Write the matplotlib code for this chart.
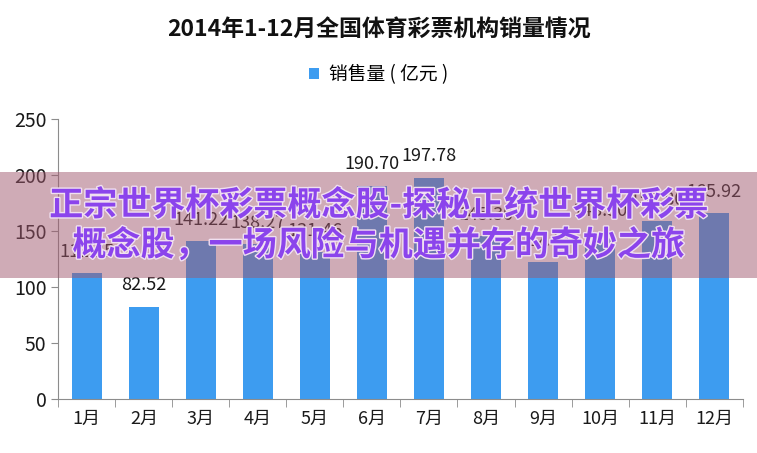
import matplotlib.pyplot as plt
import matplotlib.patheffects as pe
from matplotlib.patches import Rectangle

plt.rcParams['font.family'] = ['Noto Sans CJK SC', 'DejaVu Sans']

# data
months = ['1月', '2月', '3月', '4月', '5月', '6月', '7月', '8月', '9月', '10月', '11月', '12月']
sales = [112.35, 82.52, 141.22, 138.27, 131.46, 190.70, 197.78, 145.30, 122.40, 148.50, 158.80, 165.92]
yticks = [0, 50, 100, 150, 200, 250]

title = '2014年1-12月全国体育彩票机构销量情况'
series_name = '销售量 ( 亿元 )'
banner_lines = ['正宗世界杯彩票概念股-探秘正统世界杯彩票', '概念股，一场风险与机遇并存的奇妙之旅']

bar_color = '#3d9cf0'
axis_color = '#8c8c8c'

fig = plt.figure(figsize=(7.57, 4.53), dpi=100)
ax = fig.add_axes([0.077, 0.119, 0.904, 0.618])

x = range(len(months))
bars = ax.bar(x, sales, width=0.53, color=bar_color, label=series_name, zorder=2)
for xi, v in zip(x, sales):
    ax.text(xi, v + 11, f'{v:.2f}', ha='center', va='bottom', fontsize=13, color='#1a1a1a')

ax.set_xlim(-0.5, len(months) - 0.5)
ax.set_ylim(0, 250)
ax.set_yticks(yticks)
ax.set_xticks(list(x))
ax.set_xticklabels(months, fontsize=13)
ax.tick_params(axis='y', labelsize=14, colors='#1a1a1a', length=5, color=axis_color)
ax.tick_params(axis='x', length=0, pad=8, colors='#1a1a1a')
# category boundary ticks on the x axis
ax.set_xticks([i - 0.5 for i in range(len(months) + 1)], minor=True)
ax.tick_params(axis='x', which='minor', length=6, color=axis_color, direction='out')
for s in ['top', 'right']:
    ax.spines[s].set_visible(False)
for s in ['left', 'bottom']:
    ax.spines[s].set_color(axis_color)

fig.text(0.5, 0.935, title, ha='center', va='center', fontsize=16.5, fontweight='bold', color='#111111')
fig.legend(handles=[bars], loc='center', bbox_to_anchor=(0.5, 0.835), frameon=False,
           fontsize=13.5, handlelength=0.55, handleheight=0.55, handletextpad=0.5)

# overlay banner
fig.patches.append(Rectangle((0, 1 - 278 / 453), 1, 106 / 453, transform=fig.transFigure,
                             facecolor='#a0586e', alpha=0.5, edgecolor='none', zorder=5))
for yy, line in zip([1 - 205 / 453, 1 - 245 / 453], banner_lines):
    fig.text(0.5, yy, line, ha='center', va='center', fontsize=24.5, fontweight='heavy',
             color='#8b44ec', zorder=6,
             path_effects=[pe.withStroke(linewidth=2, foreground='#f0e0f0')])

fig.savefig('out.png', dpi=100)
